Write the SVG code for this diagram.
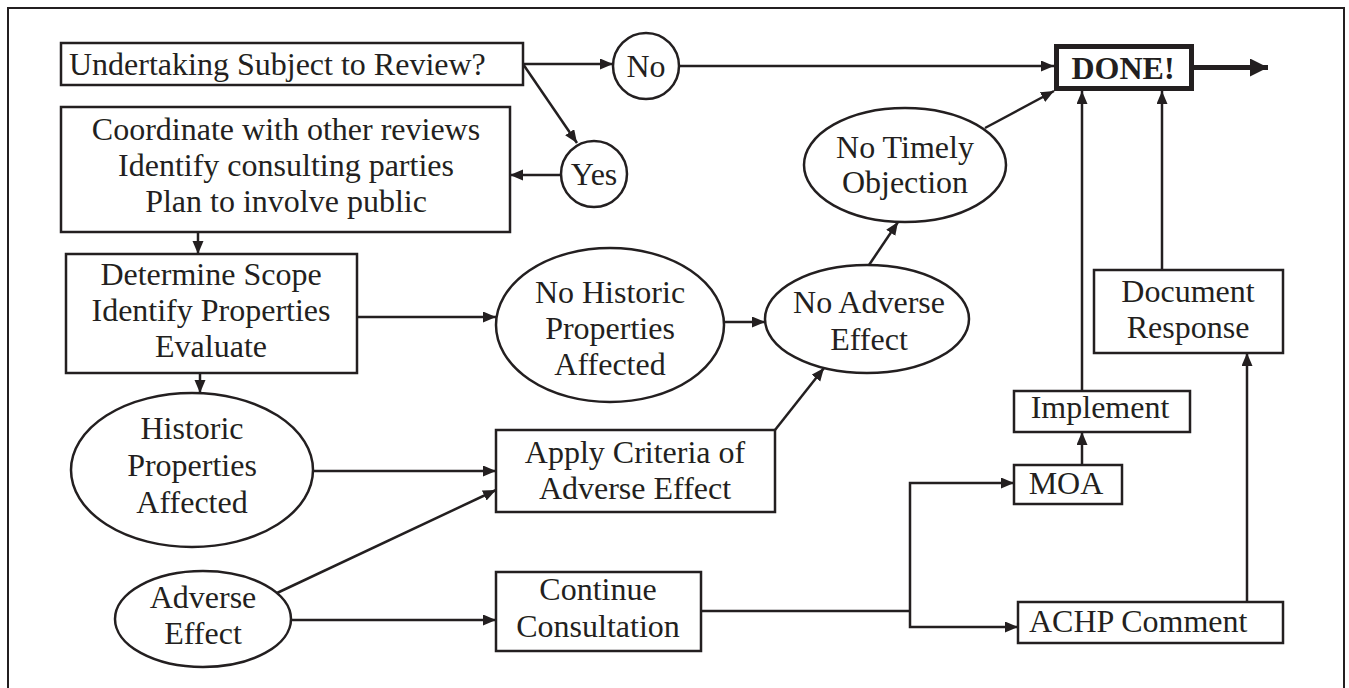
<svg xmlns="http://www.w3.org/2000/svg" width="1349" height="688" viewBox="0 0 1349 688">
<style>
.box{fill:#fff;stroke:#231f20;stroke-width:2.5}
.ell{fill:#fff;stroke:#231f20;stroke-width:2.5}
.t{font-family:"Liberation Serif","Times New Roman",serif;font-size:32px;fill:#231f20;text-anchor:middle}
.ts{font-family:"Liberation Serif","Times New Roman",serif;font-size:32px;fill:#231f20;text-anchor:start}
.c{fill:none;stroke:#231f20;stroke-width:2.5}
</style>
<defs>
<marker id="ah" markerUnits="userSpaceOnUse" markerWidth="14" markerHeight="12" refX="13" refY="5.5" orient="auto"><path d="M0,0 L13,5.5 L0,11 z" fill="#231f20"/></marker>
<marker id="ahb" markerUnits="userSpaceOnUse" markerWidth="19" markerHeight="19" refX="18" refY="9" orient="auto"><path d="M0,0 L18,9 L0,18 z" fill="#231f20"/></marker>
</defs>
<rect x="8" y="8" width="1336" height="690" fill="none" stroke="#231f20" stroke-width="2"/>
<g id="connectors">
<line class="c" x1="523" y1="64" x2="613" y2="64" marker-end="url(#ah)"/>
<line class="c" x1="523" y1="64" x2="577" y2="143" marker-end="url(#ah)"/>
<line class="c" x1="561" y1="175" x2="510" y2="175" marker-end="url(#ah)"/>
<line class="c" x1="679" y1="66" x2="1054" y2="66" marker-end="url(#ah)"/>
<line class="c" x1="985" y1="128" x2="1054" y2="91" marker-end="url(#ah)"/>
<line class="c" x1="869" y1="265" x2="898" y2="222" marker-end="url(#ah)"/>
<line class="c" x1="724" y1="322" x2="765" y2="322" marker-end="url(#ah)"/>
<line class="c" x1="775" y1="430" x2="824" y2="368" marker-end="url(#ah)"/>
<line class="c" x1="357" y1="317" x2="496" y2="317" marker-end="url(#ah)"/>
<line class="c" x1="198" y1="232" x2="198" y2="254" marker-end="url(#ah)"/>
<line class="c" x1="200" y1="373" x2="200" y2="393" marker-end="url(#ah)"/>
<line class="c" x1="312" y1="471" x2="496" y2="471" marker-end="url(#ah)"/>
<line class="c" x1="277" y1="593" x2="496" y2="490" marker-end="url(#ah)"/>
<line class="c" x1="291" y1="620" x2="496" y2="620" marker-end="url(#ah)"/>
<line class="c" x1="701" y1="611" x2="910" y2="611"/>
<polyline class="c" points="910,611 910,483 1014,483" marker-end="url(#ah)"/>
<polyline class="c" points="910,611 910,627 1018,627" marker-end="url(#ah)"/>
<line class="c" x1="1082" y1="465" x2="1082" y2="432" marker-end="url(#ah)"/>
<line class="c" x1="1082" y1="391" x2="1082" y2="91" marker-end="url(#ah)"/>
<line class="c" x1="1162" y1="270" x2="1162" y2="91" marker-end="url(#ah)"/>
<line class="c" x1="1247" y1="602" x2="1247" y2="353" marker-end="url(#ah)"/>
<line x1="1194" y1="67.5" x2="1268" y2="67.5" stroke="#231f20" stroke-width="5" marker-end="url(#ahb)"/>
</g>
<g id="undertaking"><rect class="box" x="61" y="43" width="462" height="42"/><text class="ts" x="69" y="75">Undertaking Subject to Review?</text></g>
<g id="no"><circle class="ell" cx="646" cy="66" r="33"/><text class="t" x="646" y="77">No</text></g>
<g id="yes"><circle class="ell" cx="594" cy="174" r="33"/><text class="t" x="594" y="185">Yes</text></g>
<g id="done"><rect x="1056.5" y="46.5" width="135" height="42" fill="#fff" stroke="#231f20" stroke-width="5"/><text class="t" x="1123" y="79" font-weight="bold">DONE!</text></g>
<g id="coordinate"><rect class="box" x="61" y="107" width="449" height="125"/><text class="t" x="286" y="140">Coordinate with other reviews</text><text class="t" x="286" y="176">Identify consulting parties</text><text class="t" x="286" y="212">Plan to involve public</text></g>
<g id="determine"><rect class="box" x="66" y="254" width="291" height="119"/><text class="t" x="211" y="285">Determine Scope</text><text class="t" x="211" y="321">Identify Properties</text><text class="t" x="211" y="357">Evaluate</text></g>
<g id="nohistoric"><ellipse class="ell" cx="610" cy="325" rx="114" ry="77"/><text class="t" x="610" y="303">No Historic</text><text class="t" x="610" y="339">Properties</text><text class="t" x="610" y="375">Affected</text></g>
<g id="historic"><ellipse class="ell" cx="192" cy="470" rx="121" ry="77"/><text class="t" x="192" y="439">Historic</text><text class="t" x="192" y="476">Properties</text><text class="t" x="192" y="513">Affected</text></g>
<g id="adverse"><ellipse class="ell" cx="203" cy="619" rx="88" ry="48"/><text class="t" x="203" y="608">Adverse</text><text class="t" x="203" y="644">Effect</text></g>
<g id="apply"><rect class="box" x="496" y="430" width="279" height="82"/><text class="t" x="635" y="463">Apply Criteria of</text><text class="t" x="635" y="499">Adverse Effect</text></g>
<g id="continue"><rect class="box" x="496" y="572" width="205" height="79"/><text class="t" x="598" y="600">Continue</text><text class="t" x="598" y="637">Consultation</text></g>
<g id="notimely"><ellipse class="ell" cx="905" cy="165" rx="101" ry="57"/><text class="t" x="905" y="158">No Timely</text><text class="t" x="905" y="193">Objection</text></g>
<g id="noadverse"><ellipse class="ell" cx="867" cy="319" rx="102" ry="54"/><text class="t" x="869" y="313">No Adverse</text><text class="t" x="869" y="350">Effect</text></g>
<g id="document"><rect class="box" x="1094" y="270" width="189" height="83"/><text class="t" x="1188" y="302">Document</text><text class="t" x="1188" y="338">Response</text></g>
<g id="implement"><rect class="box" x="1014" y="391" width="176" height="41"/><text class="t" x="1100" y="418">Implement</text></g>
<g id="moa"><rect class="box" x="1014" y="465" width="108" height="39"/><text class="t" x="1066" y="494">MOA</text></g>
<g id="achp"><rect class="box" x="1018" y="602" width="265" height="41"/><text class="ts" x="1029" y="632">ACHP Comment</text></g>
</svg>
